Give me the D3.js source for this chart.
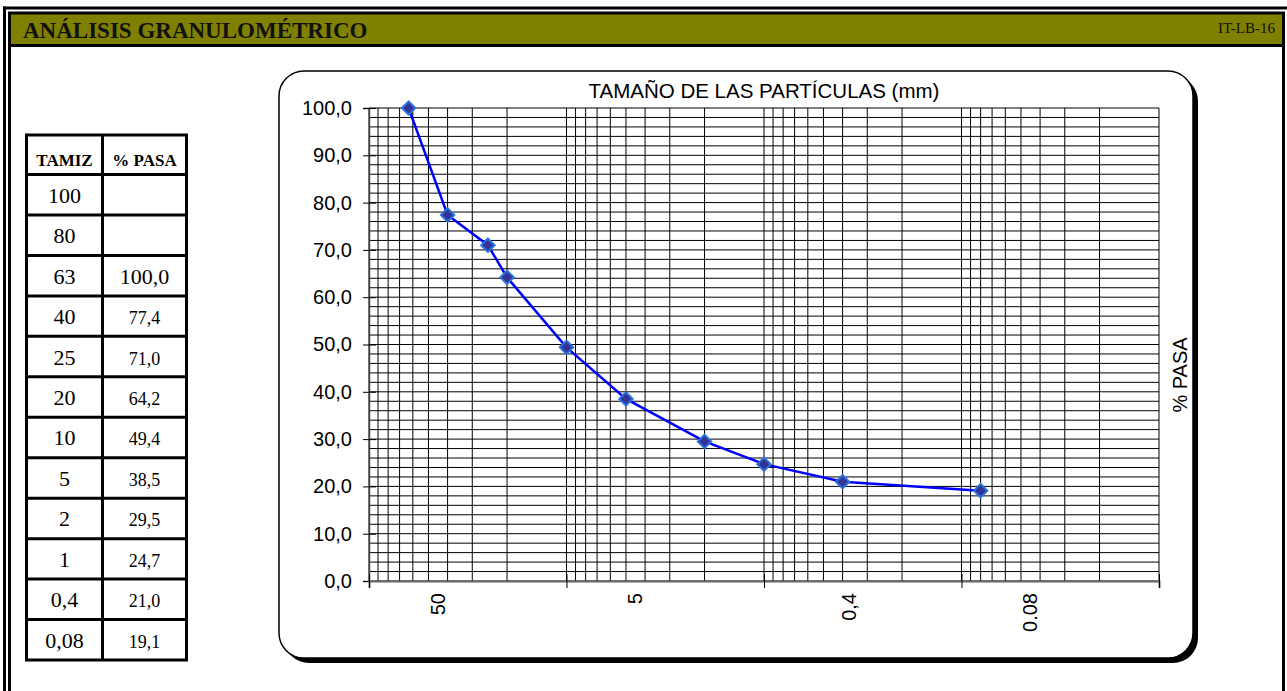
<!DOCTYPE html>
<html><head><meta charset="utf-8">
<script src="https://cdn.jsdelivr.net/npm/d3@7"></script>
<style>body{margin:0;background:#fff}svg{display:block}</style>
</head><body>
<svg id="c" width="1287" height="691"></svg>
<script>
// ---- data ----
const sieveSizes = [63, 40, 25, 20, 10, 5, 2, 1, 0.4, 0.08];
const percentPassing = [100.0, 77.4, 71.0, 64.2, 49.4, 38.5, 29.5, 24.7, 21.0, 19.1];
const tableSieves = ["100", "80", "63", "40", "25", "20", "10", "5", "2", "1", "0,4", "0,08"];
const tablePassing = ["", "", "100,0", "77,4", "71,0", "64,2", "49,4", "38,5", "29,5", "24,7", "21,0", "19,1"];
const tableHeaders = ["TAMIZ", "% PASA"];
const yTicks = [0, 10, 20, 30, 40, 50, 60, 70, 80, 90, 100];
const xMajorTicks = [100, 10, 1, 0.1, 0.01];
const xTickLabels = ["50", "5", "0,4", "0.08"];
const xTickLabelAt = [44.7, 4.5, 0.37, 0.045];
const headerTitle = "ANÁLISIS GRANULOMÉTRICO";
const headerCode = "IT-LB-16";
const chartTitle = "TAMAÑO DE LAS PARTÍCULAS (mm)";
const yTitle = "% PASA";

const svg = d3.select("#c");
const serif = "'Liberation Serif','Times New Roman',serif";
const sans = "'Liberation Sans',Arial,sans-serif";

// ---- page frame ----
svg.append("line").attr("x1", 3).attr("x2", 1287).attr("y1", 8).attr("y2", 8)
  .attr("stroke", "#000").attr("stroke-width", 3);
svg.append("line").attr("x1", 4.5).attr("x2", 4.5).attr("y1", 6.5).attr("y2", 691)
  .attr("stroke", "#000").attr("stroke-width", 3);
svg.append("rect").attr("x", 9.5).attr("y", 13).attr("width", 1274).attr("height", 32.5)
  .attr("fill", "#808000").attr("stroke", "#000").attr("stroke-width", 3);
svg.append("line").attr("x1", 9.5).attr("x2", 9.5).attr("y1", 13).attr("y2", 691)
  .attr("stroke", "#000").attr("stroke-width", 3);
svg.append("line").attr("x1", 1283.5).attr("x2", 1283.5).attr("y1", 13).attr("y2", 691)
  .attr("stroke", "#000").attr("stroke-width", 3);
svg.append("text").attr("x", 23).attr("y", 38).text(headerTitle)
  .attr("font-family", serif).attr("font-weight", "bold").attr("font-size", 23).attr("fill", "#111");
svg.append("text").attr("x", 1275).attr("y", 33).attr("text-anchor", "end").text(headerCode)
  .attr("font-family", serif).attr("font-size", 15).attr("fill", "#111");

// ---- table ----
const tL = 26.5, tM = 102.5, tR = 186.5, tTop = 135, tHead = 174.5, tBot = 660;
const rowY = d3.scaleBand().domain(d3.range(tableSieves.length)).range([tHead, tBot]);
const tbl = svg.append("g");
tbl.append("rect").attr("x", tL).attr("y", tTop).attr("width", tR - tL).attr("height", tBot - tTop)
  .attr("fill", "#fff").attr("stroke", "#000").attr("stroke-width", 3);
tbl.append("line").attr("x1", tM).attr("x2", tM).attr("y1", tTop).attr("y2", tBot)
  .attr("stroke", "#000").attr("stroke-width", 3);
tbl.selectAll("line.row").data(d3.range(tableSieves.length)).join("line").attr("class", "row")
  .attr("x1", tL).attr("x2", tR).attr("y1", d => rowY(d)).attr("y2", d => rowY(d))
  .attr("stroke", "#000").attr("stroke-width", 3);
const colC = [(tL + tM) / 2, (tM + tR) / 2];
tbl.selectAll("text.h").data(tableHeaders).join("text").attr("class", "h")
  .attr("x", (d, i) => colC[i]).attr("y", 166).attr("text-anchor", "middle").text(d => d)
  .attr("font-family", serif).attr("font-weight", "bold").attr("font-size", 17);
tbl.selectAll("text.s").data(tableSieves).join("text").attr("class", "s")
  .attr("x", colC[0]).attr("y", (d, i) => rowY(i) + rowY.bandwidth() / 2 + 8)
  .attr("text-anchor", "middle").text(d => d)
  .attr("font-family", serif).attr("font-size", 22);
tbl.selectAll("text.p").data(tablePassing).join("text").attr("class", "p")
  .attr("x", colC[1]).attr("y", (d, i) => rowY(i) + rowY.bandwidth() / 2 + 8)
  .attr("text-anchor", "middle").text(d => d)
  .attr("font-family", serif).attr("font-size", d => d === "100,0" ? 22 : 18);

// ---- chart frame ----
const fx = 279, fy = 71, fw = 914, fh = 587, fr = 25;
svg.append("rect").attr("x", fx + 5).attr("y", fy + 5).attr("width", fw).attr("height", fh)
  .attr("rx", fr).attr("fill", "#000");
svg.append("rect").attr("x", fx).attr("y", fy).attr("width", fw).attr("height", fh)
  .attr("rx", fr).attr("fill", "#fff").attr("stroke", "#000").attr("stroke-width", 1.5);

// ---- scales ----
const x = d3.scaleLog().domain([100, 0.01]).range([369, 1159]);
const y = d3.scaleLinear().domain([0, 100]).range([581, 108]);

const grid = svg.append("g");
grid.selectAll("line.v").data(x.ticks()).join("line").attr("class", "v")
  .attr("x1", d => x(d)).attr("x2", d => x(d)).attr("y1", y(0)).attr("y2", y(100))
  .attr("stroke", "#000").attr("stroke-width", 1);
grid.selectAll("line.hz").data(y.ticks(50)).join("line").attr("class", "hz")
  .attr("x1", x(100)).attr("x2", x(0.01)).attr("y1", d => y(d)).attr("y2", d => y(d))
  .attr("stroke", "#000").attr("stroke-width", 1);

// y axis
const yAx = svg.append("g").attr("transform", `translate(${x(100)},0)`)
  .call(d3.axisLeft(y).tickValues(yTicks).tickSize(6).tickPadding(11)
    .tickFormat(d => d.toFixed(1).replace(".", ",")));
yAx.select(".domain").attr("stroke", "#444").attr("stroke-width", 1.5);
yAx.selectAll(".tick line").attr("x1", 7).attr("x2", -6).attr("stroke", "#000");
yAx.selectAll(".tick text").attr("font-family", sans).attr("font-size", 20).attr("fill", "#000");

// x axis
const xAx = svg.append("g").attr("transform", `translate(0,${y(0)})`)
  .call(d3.axisBottom(x).tickValues(xMajorTicks).tickSize(7).tickFormat(""));
xAx.select(".domain").attr("stroke", "#666").attr("stroke-width", 2);
xAx.selectAll(".tick line").attr("y1", -7).attr("y2", 7).attr("stroke", "#000");
svg.append("g").selectAll("text").data(xTickLabels).join("text")
  .attr("transform", (d, i) => `translate(${x(xTickLabelAt[i])},${y(0) + 12}) rotate(-90)`)
  .attr("text-anchor", "end").attr("dy", "0.35em").text(d => d)
  .attr("font-family", sans).attr("font-size", 20).attr("fill", "#000");

// titles
svg.append("text").attr("x", (x(100) + x(0.01)) / 2).attr("y", 98).attr("text-anchor", "middle")
  .text(chartTitle).attr("font-family", sans).attr("font-size", 20.5).attr("fill", "#000");
svg.append("text").attr("transform", `translate(1187,375) rotate(-90)`)
  .attr("text-anchor", "middle").text(yTitle)
  .attr("font-family", sans).attr("font-size", 20).attr("fill", "#000");

// ---- series ----
const pts = sieveSizes.map((s, i) => [s, percentPassing[i]]);
svg.append("path").datum(pts)
  .attr("d", d3.line().x(d => x(d[0])).y(d => y(d[1])))
  .attr("fill", "none").attr("stroke", "#0000ff").attr("stroke-width", 2.5);
svg.append("g").selectAll("path").data(pts).join("path")
  .attr("transform", d => `translate(${x(d[0])},${y(d[1])}) rotate(45)`)
  .attr("d", d3.symbol(d3.symbolSquare, 90)())
  .attr("fill", "#333399").attr("stroke", "#2a74d8").attr("stroke-width", 2);
</script>
</body></html>
